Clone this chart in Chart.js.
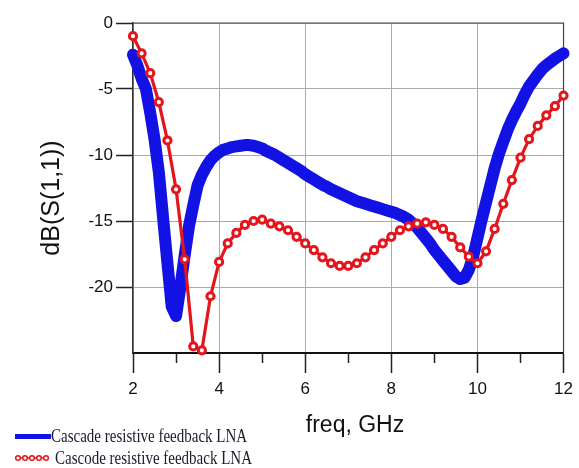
<!DOCTYPE html>
<html>
<head>
<meta charset="utf-8">
<script src="https://cdn.jsdelivr.net/npm/chart.js@4.4.1/dist/chart.umd.min.js"></script>
<style>
  html, body { margin: 0; padding: 0; background: #fff; }
  #s11-chart { display: block; }
</style>
</head>
<body>
<canvas id="s11-chart" width="579" height="468"></canvas>
<script>

// frequency sweep, GHz
const freqCascade = [
    2.0, 2.1, 2.2, 2.3, 2.4, 2.5, 2.6, 2.7, 2.8, 2.9,
    3.0, 3.1, 3.2, 3.3, 3.4, 3.5, 3.6, 3.7, 3.8, 3.9,
    4.0, 4.1, 4.2, 4.3, 4.4, 4.5, 4.6, 4.7, 4.8, 4.9,
    5.0, 5.1, 5.2, 5.3, 5.4, 5.5, 5.6, 5.7, 5.8, 5.9,
    6.0, 6.1, 6.2, 6.3, 6.4, 6.5, 6.6, 6.7, 6.8, 6.9,
    7.0, 7.1, 7.2, 7.3, 7.4, 7.5, 7.6, 7.7, 7.8, 7.9,
    8.0, 8.1, 8.2, 8.3, 8.4, 8.5, 8.6, 8.7, 8.8, 8.9,
    9.0, 9.1, 9.2, 9.3, 9.4, 9.5, 9.6, 9.7, 9.8, 9.9,
    10.0, 10.1, 10.2, 10.3, 10.4, 10.5, 10.6, 10.7, 10.8, 10.9,
    11.0, 11.1, 11.2, 11.3, 11.4, 11.5, 11.6, 11.7, 11.8, 11.9,
    12.0
];
const s11Cascade = [
    -2.4, -3.2, -4.2, -5.0, -6.8, -8.8, -11.3, -14.8, -18.2, -21.5,
    -22.2, -20.0, -17.6, -15.4, -13.8, -12.3, -11.5, -10.9, -10.4, -10.05,
    -9.8, -9.6, -9.5, -9.4, -9.35, -9.3, -9.25, -9.25, -9.3, -9.4,
    -9.5, -9.7, -9.85, -10.0, -10.2, -10.4, -10.6, -10.8, -11.0, -11.2,
    -11.45, -11.65, -11.85, -12.05, -12.25, -12.4, -12.6, -12.75, -12.9, -13.05,
    -13.2, -13.35, -13.5, -13.6, -13.7, -13.8, -13.9, -14.0, -14.1, -14.2,
    -14.3, -14.4, -14.55, -14.7, -14.9, -15.2, -15.5, -15.9, -16.3, -16.7,
    -17.2, -17.6, -18.0, -18.4, -18.8, -19.2, -19.4, -19.3, -18.7, -17.7,
    -16.3, -14.9, -13.6, -12.3, -11.0, -9.9, -9.0, -8.1, -7.35, -6.7,
    -6.1, -5.4, -4.8, -4.35, -3.9, -3.5, -3.2, -2.95, -2.7, -2.5,
    -2.3
];

const freqCascode = [
    2.0, 2.2, 2.4, 2.6, 2.8, 3.0, 3.2, 3.4, 3.6, 3.8,
    4.0, 4.2, 4.4, 4.6, 4.8, 5.0, 5.2, 5.4, 5.6, 5.8,
    6.0, 6.2, 6.4, 6.6, 6.8, 7.0, 7.2, 7.4, 7.6, 7.8,
    8.0, 8.2, 8.4, 8.6, 8.8, 9.0, 9.2, 9.4, 9.6, 9.8,
    10.0, 10.2, 10.4, 10.6, 10.8, 11.0, 11.2, 11.4, 11.6, 11.8,
    12.0
];
const s11Cascode = [
    -1.0, -2.3, -3.8, -6.0, -8.9, -12.6, -17.9, -24.5, -24.8, -20.7,
    -18.1, -16.7, -15.9, -15.3, -15.0, -14.9, -15.2, -15.4, -15.7, -16.2,
    -16.7, -17.2, -17.75, -18.2, -18.4, -18.4, -18.2, -17.75, -17.2, -16.7,
    -16.2, -15.7, -15.4, -15.2, -15.1, -15.3, -15.6, -16.2, -17.0, -17.7,
    -18.2, -17.3, -15.6, -13.7, -11.9, -10.2, -8.8, -7.8, -7.0, -6.3,
    -5.5
];

const xTicks = [2, 4, 6, 8, 10, 12];
const xMinorTicks = [3, 5, 7, 9, 11];
const yTicks = [0, -5, -10, -15, -20];

const seriesNames = ['Cascade resistive feedback LNA', 'Cascode resistive feedback LNA'];

const BLUE = '#1212e4',
    RED = '#e3161c',
    AXIS = '#222';

function toPoints(xs, ys) {
    return xs.map((x, i) => ({ x: x, y: ys[i] }));
}

// minor ticks, frame, titles and the legend below the plot
const decorPlugin = {
    id: 'decor',
    beforeDatasetsDraw(chart) {
        const { ctx, chartArea: a } = chart;
        ctx.save();
        ctx.strokeStyle = '#444';
        ctx.lineWidth = 1.2;
        ctx.beginPath();
        ctx.moveTo(a.left, a.top);
        ctx.lineTo(a.right, a.top);
        ctx.lineTo(a.right, a.bottom);
        ctx.stroke();
        ctx.restore();
    },
    afterDraw(chart) {
        const { ctx, chartArea: a, scales } = chart;
        ctx.save();

        // short ticks at odd GHz
        ctx.strokeStyle = AXIS;
        ctx.lineWidth = 1.5;
        xMinorTicks.forEach(v => {
            const px = Math.round(scales.x.getPixelForValue(v)) + 0.5;
            ctx.beginPath();
            ctx.moveTo(px, a.bottom);
            ctx.lineTo(px, a.bottom + 10);
            ctx.stroke();
        });

        // axis titles
        ctx.fillStyle = '#111';
        ctx.font = '23px "Liberation Sans", Arial, sans-serif';
        ctx.textAlign = 'center';
        ctx.textBaseline = 'alphabetic';
        ctx.fillText('freq, GHz', 355, 432);

        ctx.save();
        ctx.translate(59, 198);
        ctx.rotate(-Math.PI / 2);
        ctx.font = '25px "Liberation Sans", Arial, sans-serif';
        ctx.fillText('dB(S(1,1))', 0, 0);
        ctx.restore();

        // legend
        ctx.fillStyle = BLUE;
        ctx.fillRect(15, 434, 36, 5);

        ctx.strokeStyle = RED;
        ctx.lineWidth = 1.5;
        ctx.beginPath();
        ctx.moveTo(15, 458);
        ctx.lineTo(49, 458);
        ctx.stroke();
        for (let i = 0; i < 5; i++) {
            ctx.beginPath();
            ctx.arc(18 + i * 7, 458, 2.3, 0, Math.PI * 2);
            ctx.fillStyle = '#fff';
            ctx.fill();
            ctx.stroke();
        }

        ctx.fillStyle = '#1b1b2e';
        ctx.textAlign = 'left';
        ctx.textBaseline = 'middle';
        ctx.font = '15px "Liberation Serif", "Times New Roman", serif';
        [[51, 437, seriesNames[0]], [55, 459, seriesNames[1]]].forEach(item => {
            ctx.save();
            ctx.translate(item[0], item[1]);
            ctx.scale(1, 1.2);
            ctx.fillText(item[2], 0, 0);
            ctx.restore();
        });

        ctx.restore();
    }
};

const ctx = document.querySelector('#s11-chart');

const chart = new Chart(ctx.getContext('2d'), {
    type: 'line',
    data: {
        datasets: [
            {
                label: seriesNames[1],
                data: toPoints(freqCascode, s11Cascode),
                borderColor: RED,
                borderWidth: 3.2,
                pointRadius: 3.6,
                pointBorderWidth: 3,
                pointBorderColor: RED,
                pointBackgroundColor: '#fff',
                tension: 0,
                clip: false,
                order: 0,
            },
            {
                label: seriesNames[0],
                data: toPoints(freqCascade, s11Cascade),
                borderColor: BLUE,
                borderWidth: 12,
                borderCapStyle: 'round',
                borderJoinStyle: 'round',
                pointRadius: 0,
                tension: 0,
                clip: false,
                order: 1,
            },
        ]
    },
    options: {
        responsive: false,
        animation: false,
        devicePixelRatio: 1,
        layout: {
            padding: { left: 0, top: 23, right: 11, bottom: 0 }
        },
        scales: {
            x: {
                type: 'linear',
                min: 2,
                max: 12,
                afterFit(scale) { scale.height = 468 - 353; },
                afterBuildTicks(scale) {
                    scale.ticks = xTicks.map(v => ({ value: v }));
                },
                grid: {
                    color: '#aaaaaa',
                    lineWidth: 1,
                    drawTicks: true,
                    tickLength: 20,
                    tickColor: AXIS,
                    tickWidth: 1.5,
                },
                border: { display: true, color: '#111', width: 2 },
                ticks: {
                    padding: 6,
                    maxRotation: 0,
                    color: '#111',
                    font: { size: 17, family: '"Liberation Sans", Arial, sans-serif' },
                },
            },
            y: {
                type: 'linear',
                min: -25,
                max: 0,
                afterFit(scale) { scale.width = 133; },
                afterBuildTicks(scale) {
                    scale.ticks = yTicks.concat([-25]).map(v => ({ value: v }));
                },
                grid: {
                    color: '#aaaaaa',
                    lineWidth: 1,
                    drawTicks: true,
                    tickLength: 17,
                    tickWidth: 1.5,
                    tickColor: c => (c.tick && c.tick.value === -25) ? 'rgba(0,0,0,0)' : AXIS,
                },
                border: { display: true, color: '#333', width: 1.5 },
                ticks: {
                    padding: 3,
                    color: '#111',
                    font: { size: 17, family: '"Liberation Sans", Arial, sans-serif' },
                    callback: v => (v === -25 ? '' : v),
                },
            },
        },
        plugins: {
            legend: { display: false },
            tooltip: { enabled: false },
        }
    },
    plugins: [decorPlugin]
});

</script>
</body>
</html>
